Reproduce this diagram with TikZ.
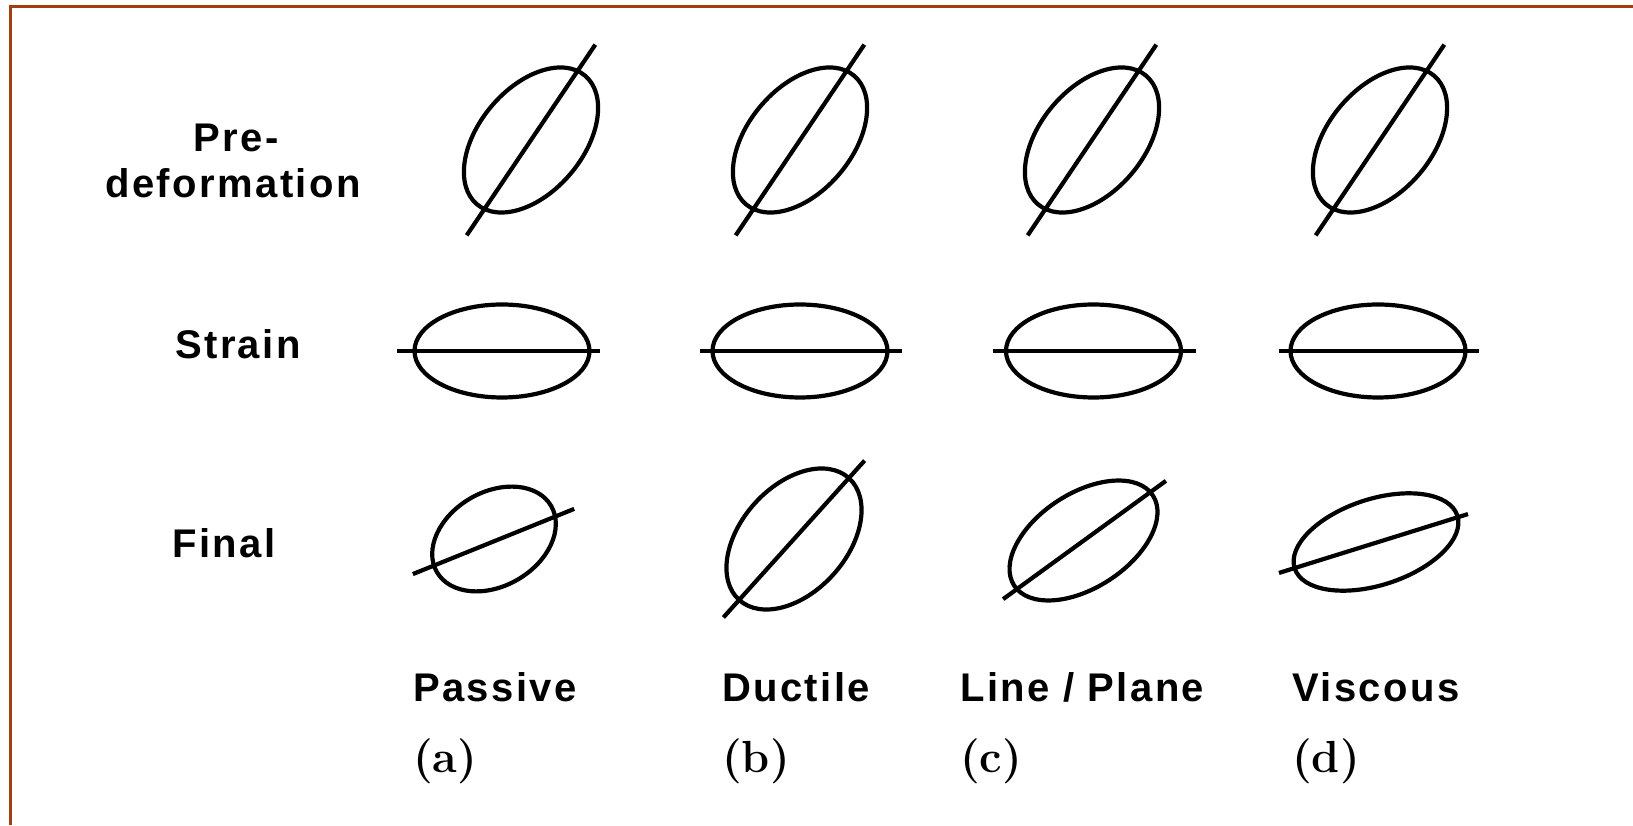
\documentclass[tikz,border=0pt]{standalone}
\usepackage{fontspec}
\setsansfont{Liberation Sans}[LetterSpace=6]
\usetikzlibrary{calc}
\definecolor{framecol}{RGB}{163,62,18}
\begin{document}
\begin{tikzpicture}[x=1pt,y=1pt,
  shapeline/.style={line width=4.2pt, draw=black},
  rowlab/.style={inner sep=0pt, font=\sffamily\bfseries\fontsize{40}{48}\selectfont},
  caplab/.style={inner sep=0pt, anchor=base west, font=\sffamily\bfseries\fontsize{40}{48}\selectfont},
  letlab/.style={inner sep=0pt, anchor=base west, font=\rmfamily\bfseries\fontsize{45}{54}\selectfont}]
\useasboundingbox (0,0) rectangle (1633,825);
% frame
\draw[framecol, line width=2.6pt] (10.3,0) -- (10.3,818.5) -- (1633,818.5);
% row labels
\node[rowlab, anchor=base] (pre) at (236,673) {Pre-};
\node[rowlab, anchor=base] (deform) at (233,627) {deformation};
\node[rowlab, anchor=base west] (strain) at (175,466) {Strain};
\node[rowlab, anchor=base west] (final) at (172,267) {Final};
% column labels
\node[caplab] (passive) at (413,124) {Passive};
\node[caplab] (ductile) at (722,124) {Ductile};
\node[caplab] (lineplane) at (960,124) {Line / Plane};
\node[caplab] (viscous) at (1292,124) {Viscous};
\node[letlab] (la) at (413,53) {(a)};
\node[letlab] (lb) at (722,53) {(b)};
\node[letlab] (lc) at (960,53) {(c)};
\node[letlab] (ld) at (1292,53) {(d)};
% pre-deformation row
\foreach \cx in {531,800,1092,1380}{
  \begin{scope}[shift={(\cx,685)}]
    \draw[shapeline, rotate=50] (0,0) ellipse [x radius=84pt, y radius=52pt];
    \draw[shapeline] (56:115pt) -- (236:115pt);
  \end{scope}
}
% strain row
\foreach \cx/\lx/\rx in {502/397/600, 800/700/902, 1093.5/993/1196, 1378/1279/1479}{
  \draw[shapeline] (\cx,474) ellipse [x radius=87.5pt, y radius=46.5pt];
  \draw[shapeline] (\lx,474) -- (\rx,474);
}
% final row
\begin{scope}[shift={(494,286)}]
  \draw[shapeline, rotate=30] (0,0) ellipse [x radius=66pt, y radius=47pt];
\end{scope}
\begin{scope}[shift={(493.5,283.5)}]
  \draw[shapeline] (22:87pt) -- (202:87pt);
\end{scope}
\begin{scope}[shift={(794,286)}]
  \draw[shapeline, rotate=48] (0,0) ellipse [x radius=82pt, y radius=53pt];
  \draw[shapeline] (48:105.5pt) -- (228:105.5pt);
\end{scope}
\begin{scope}[shift={(1083.5,284.5)}]
  \draw[shapeline, rotate=33] (0,0) ellipse [x radius=82.7pt, y radius=47.2pt];
\end{scope}
\begin{scope}[shift={(1084.5,285)}]
  \draw[shapeline] (36:100.6pt) -- (216:100.6pt);
\end{scope}
\begin{scope}[shift={(1376,283)}]
  \draw[shapeline, rotate=18] (0,0) ellipse [x radius=85.5pt, y radius=43pt];
\end{scope}
\begin{scope}[shift={(1373.5,281.5)}]
  \draw[shapeline] (17.3:99pt) -- (197.3:99pt);
\end{scope}
\end{tikzpicture}
\end{document}
